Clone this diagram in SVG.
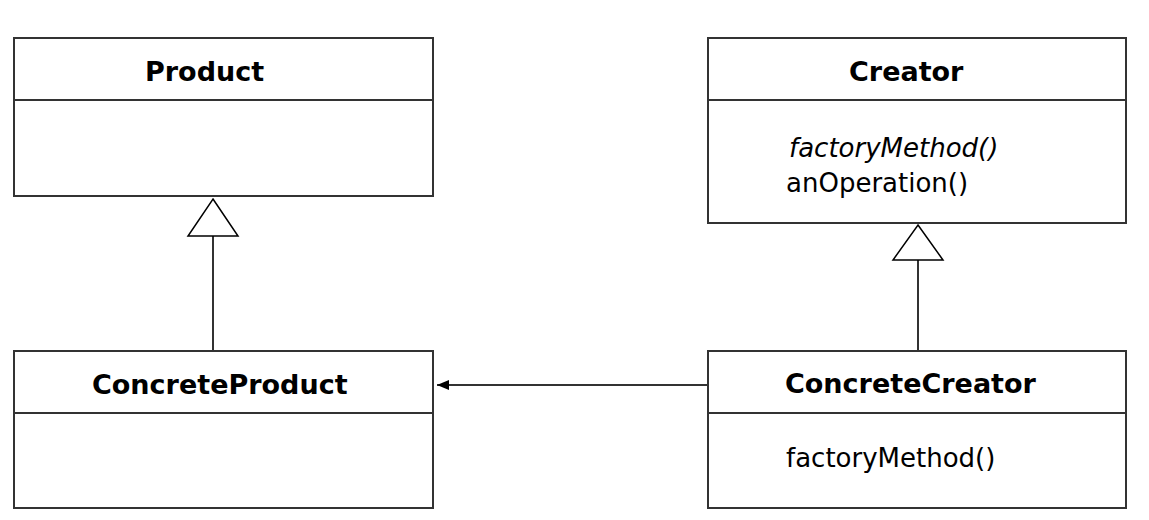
<svg xmlns="http://www.w3.org/2000/svg" width="1149" height="520" viewBox="0 0 1149 520">
<style>
.box{fill:#fff;stroke:#333;stroke-width:2}
.div{stroke:#333;stroke-width:2}
.title{font-family:"DejaVu Sans",Verdana,sans-serif;font-weight:bold;font-size:27px;fill:#000}
.op{font-family:"DejaVu Sans",Verdana,sans-serif;font-size:26px;fill:#000}
.it{font-style:italic}
.conn{stroke:#333;stroke-width:2;fill:none}
.tri{fill:#fff;stroke:#000;stroke-width:1.5}
</style>
<defs>
<marker id="arr" markerWidth="12" markerHeight="10" refX="12" refY="5" orient="auto" markerUnits="userSpaceOnUse">
<path d="M0,0 L12,5 L0,10 Z" fill="#000"/>
</marker>
</defs>
<g id="Product">
<rect class="box" x="14" y="38" width="419" height="158"/>
<line class="div" x1="14" y1="100" x2="433" y2="100"/>
<text class="title" x="145" y="81">Product</text>
</g>
<g id="Creator">
<rect class="box" x="708" y="38" width="418" height="185"/>
<line class="div" x1="708" y1="100" x2="1126" y2="100"/>
<text class="title" x="849" y="81">Creator</text>
<text class="op it" x="789" y="157">factoryMethod()</text>
<text class="op" x="786" y="192">anOperation()</text>
</g>
<g id="ConcreteProduct">
<rect class="box" x="14" y="351" width="419" height="157"/>
<line class="div" x1="14" y1="413" x2="433" y2="413"/>
<text class="title" x="92" y="394">ConcreteProduct</text>
</g>
<g id="ConcreteCreator">
<rect class="box" x="708" y="351" width="418" height="157"/>
<line class="div" x1="708" y1="413" x2="1126" y2="413"/>
<text class="title" x="785" y="393">ConcreteCreator</text>
<text class="op" x="786" y="467">factoryMethod()</text>
</g>
<g id="connectors">
<line class="conn" x1="213" y1="351" x2="213" y2="236"/>
<polygon class="tri" points="213,199 238,236 188,236"/>
<line class="conn" x1="918" y1="351" x2="918" y2="260"/>
<polygon class="tri" points="918,225 943,260 893,260"/>
<line class="conn" x1="708" y1="385" x2="437" y2="385" marker-end="url(#arr)"/>
</g>
</svg>
